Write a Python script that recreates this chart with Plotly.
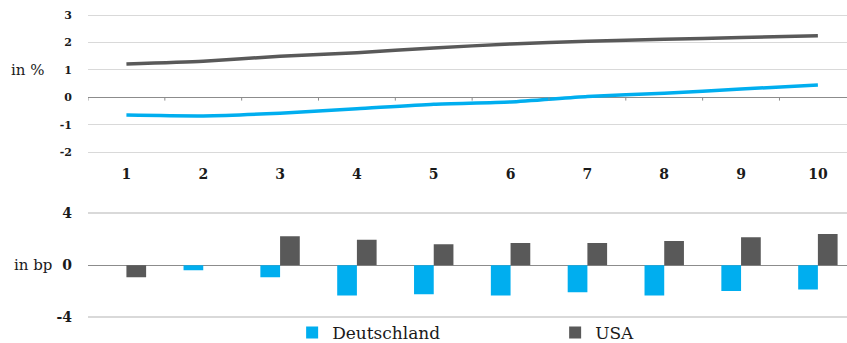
import plotly.graph_objects as go

maturities = [1, 2, 3, 4, 5, 6, 7, 8, 9, 10]
tick_labels = ["1", "2", "3", "4", "5", "6", "7", "8", "9", "10"]

# Yield curves in %
usa_yield = [1.22, 1.32, 1.50, 1.63, 1.80, 1.95, 2.05, 2.12, 2.18, 2.25]
de_yield = [-0.65, -0.68, -0.58, -0.42, -0.25, -0.17, 0.03, 0.15, 0.30, 0.45]

# Changes in bp
de_change = [0.0, -0.38, -0.92, -2.33, -2.23, -2.33, -2.08, -2.33, -1.97, -1.87]
usa_change = [-0.92, 0.0, 2.23, 1.97, 1.62, 1.72, 1.72, 1.87, 2.15, 2.41]

BLUE = "#00AEEF"
GRAY = "#595959"
GRID = "#d9d9d9"
AXIS = "#8c8c8c"
FONT = "DejaVu Serif, Liberation Serif, serif"
TXT = "#1a1a1a"

fig = go.Figure()

fig.add_trace(go.Scatter(x=maturities, y=usa_yield, mode="lines",
                         line=dict(color=GRAY, width=3.5, shape="spline", smoothing=0.6),
                         showlegend=False, xaxis="x", yaxis="y"))
fig.add_trace(go.Scatter(x=maturities, y=de_yield, mode="lines",
                         line=dict(color=BLUE, width=3.5, shape="spline", smoothing=0.6),
                         showlegend=False, xaxis="x", yaxis="y"))

fig.add_trace(go.Bar(x=maturities, y=de_change, name="Deutschland",
                     marker=dict(color=BLUE, line=dict(width=0)),
                     xaxis="x2", yaxis="y2"))
fig.add_trace(go.Bar(x=maturities, y=usa_change, name="USA",
                     marker=dict(color=GRAY, line=dict(width=0)),
                     xaxis="x2", yaxis="y2"))

PW = 847 - 88.5
xr = [0.5, 0.5 + PW / 76.78]

# tick marks on the top zero line at category boundaries
shapes = []
for m in maturities:
    b = m - 0.5
    shapes.append(dict(type="line", xref="x", yref="y", x0=b, x1=b, y0=0, y1=-0.12,
                       line=dict(color=AXIS, width=1)))

fig.update_layout(
    width=847, height=343,
    margin=dict(l=88, r=0, t=0, b=0, autoexpand=False),
    paper_bgcolor="white", plot_bgcolor="white",
    font=dict(family=FONT, color=TXT),
    barmode="group", bargap=0.487, bargroupgap=0,
    xaxis=dict(domain=[0, 1], range=xr, anchor="y", tickmode="array",
               tickvals=maturities, ticktext=tick_labels, showgrid=False,
               zeroline=False, showline=False, ticks="", automargin=False,
               tickfont=dict(size=14, family=FONT, color=TXT, weight="bold"),
               ticklabelstandoff=9),
    yaxis=dict(domain=[1 - 154.8 / 343, 1 - 12.4 / 343], range=[-2.1, 3.1],
               tickmode="array", tickvals=[-2, -1, 0, 1, 2, 3],
               ticktext=["-2", "-1", "0", "1", "2", "3"],
               showgrid=True, gridcolor=GRID, gridwidth=1,
               zeroline=True, zerolinecolor=AXIS, zerolinewidth=1,
               showline=False, ticks="", ticklabelstandoff=15, automargin=False,
               tickfont=dict(size=11, family=FONT, color=TXT, weight="bold")),
    xaxis2=dict(domain=[0, 1], range=xr, anchor="y2", showticklabels=False,
                showgrid=False, zeroline=False, showline=False, ticks="",
                automargin=False),
    yaxis2=dict(domain=[1 - 321.2 / 343, 1 - 209.4 / 343], range=[-4.3, 4.3],
                tickmode="array", tickvals=[-4, 0, 4], ticktext=["-4", "0", "4"],
                showgrid=True, gridcolor=GRID, gridwidth=1.5,
                zeroline=True, zerolinecolor=AXIS, zerolinewidth=1,
                showline=False, ticks="", ticklabelstandoff=15, automargin=False,
                tickfont=dict(size=14, family=FONT, color=TXT, weight="bold")),
    legend=dict(orientation="h", x=(292 - 88) / PW, xanchor="left",
                y=1 - 333 / 343, yanchor="middle", entrywidth=218,
                entrywidthmode="pixels",
                font=dict(size=17, family=FONT, color=TXT),
                bgcolor="rgba(0,0,0,0)", itemwidth=30),
    shapes=shapes,
    annotations=[
        dict(text="in %", xref="paper", yref="y", x=(9 - 88) / PW, y=1,
             xanchor="left", yanchor="middle", showarrow=False,
             font=dict(size=15, family=FONT, color=TXT)),
        dict(text="in bp", xref="paper", yref="y2", x=(12 - 88) / PW, y=0,
             xanchor="left", yanchor="middle", showarrow=False,
             font=dict(size=15, family=FONT, color=TXT)),
    ],
)

fig.write_html("out.html")
